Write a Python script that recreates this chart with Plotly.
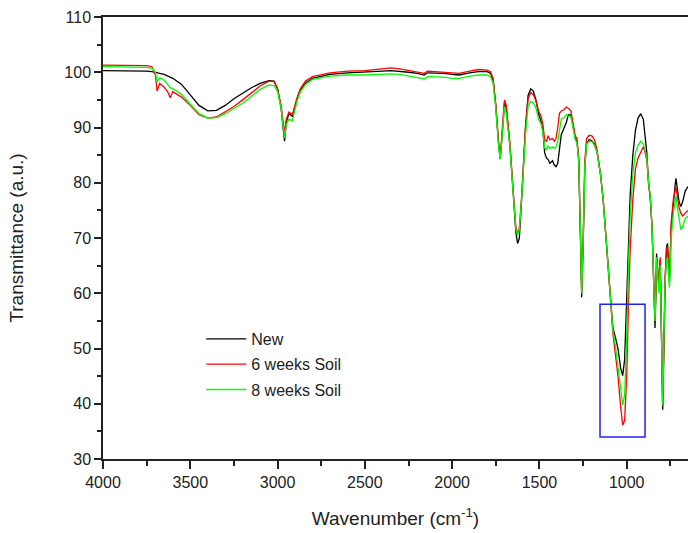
import plotly.graph_objects as go

wavenumber = [4000, 3900, 3800, 3750, 3720, 3700, 3690, 3675, 3650, 3630, 3615, 3600, 3550, 3500, 3450, 3400,
              3350, 3300, 3250, 3200, 3150, 3100, 3050, 3020, 3000, 2980, 2960, 2950, 2935, 2915, 2890, 2870,
              2840, 2800, 2700, 2600, 2500, 2400, 2350, 2300, 2250, 2200, 2160, 2140, 2050, 2000, 1960, 1900,
              1850, 1800, 1780, 1765, 1750, 1735, 1725, 1715, 1700, 1690, 1670, 1650, 1635, 1625, 1615, 1600,
              1580, 1565, 1550, 1535, 1520, 1505, 1490, 1480, 1470, 1460, 1450, 1440, 1425, 1415, 1405, 1395,
              1385, 1375, 1360, 1345, 1335, 1320, 1305, 1295, 1285, 1275, 1265, 1258, 1250, 1240, 1230, 1215,
              1200, 1185, 1170, 1150, 1135, 1120, 1105, 1090, 1080, 1065, 1050, 1035, 1023, 1012, 1000, 990,
              980, 965, 950, 935, 920, 905, 895, 885, 875, 865, 855, 845, 838, 833, 829, 820, 815, 808, 800,
              794, 788, 780, 772, 766, 760, 755, 745, 733, 723, 718, 712, 700, 690, 680, 665, 649]

new_sample = [100.3, 100.3, 100.2, 100.2, 100.1, 100.0, 99.9, 99.8, 99.6, 99.3, 99.1, 98.9, 97.8, 96.0, 94.0, 93.0,
              93.1, 94.0, 95.2, 96.2, 97.2, 98.0, 98.5, 98.4, 97.0, 93.5, 87.5, 91.0, 92.5, 92.0, 95.0, 96.8,
              98.0, 98.9, 99.6, 99.9, 100.0, 100.2, 100.3, 100.2, 100.0, 99.8, 99.5, 99.9, 99.8, 99.6, 99.5, 99.9,
              100.1, 100.1, 99.8, 98.5, 94.0, 87.5, 84.3, 88.0, 94.6, 93.5, 87.0, 78.0, 71.0, 69.0, 70.0, 78.0,
              90.0, 95.8, 97.0, 96.6, 95.0, 92.5, 91.0, 89.5, 85.4, 84.5, 84.2, 83.5, 84.0, 83.2, 82.9, 83.5,
              86.0, 88.7, 89.8, 91.0, 92.3, 92.3, 90.0, 88.0, 87.5, 84.0, 70.0, 59.3, 68.0, 83.0, 87.0, 87.8,
              87.6, 87.0, 85.5, 81.5, 77.0, 71.0, 64.8, 58.0, 53.9, 52.0, 50.0, 46.5, 45.1, 48.0, 59.0, 70.0,
              78.0, 85.0, 89.5, 91.7, 92.5, 91.5, 89.0, 85.5, 80.0, 77.0, 72.0, 60.0, 53.7, 60.0, 67.2, 63.0, 61.1, 66.0, 52.0,
              38.9, 48.0, 62.0, 68.4, 69.0, 64.0, 62.0, 72.0, 77.0, 79.5, 80.8, 79.0, 76.5, 75.7, 76.5, 78.5, 79.3]

soil_6_weeks = [101.3, 101.3, 101.3, 101.2, 101.0, 99.5, 96.6, 98.0, 97.3, 96.5, 95.4, 96.5, 95.5, 94.0, 92.3, 91.7,
                91.9, 92.8, 93.8, 95.0, 96.2, 97.5, 98.4, 98.3, 97.0, 94.0, 89.0, 91.5, 92.8, 92.3, 95.2, 97.0,
                98.4, 99.2, 99.9, 100.2, 100.3, 100.6, 100.8, 100.6, 100.3, 100.1, 99.8, 100.2, 100.0, 99.8, 99.8, 100.2,
                100.5, 100.4, 100.1, 98.8, 94.0, 87.5, 84.3, 89.0, 95.0, 94.0, 87.5, 78.5, 72.0, 70.8, 71.8, 78.5,
                90.0, 95.2, 96.3, 96.0, 94.8, 93.0, 92.0, 90.5, 87.8, 87.5, 88.5, 87.8, 88.0, 87.5, 88.0, 90.0,
                92.6, 93.0, 93.2, 93.7, 93.5, 93.0, 90.5, 88.5, 88.0, 84.5, 71.0, 60.5, 69.0, 84.0, 88.0, 88.6,
                88.5, 87.8, 86.0, 81.5, 77.0, 71.0, 64.5, 57.5, 53.0, 49.5, 45.0, 39.5, 36.1, 37.0, 45.0, 58.0,
                68.0, 77.0, 82.5, 84.5, 85.5, 86.5, 85.5, 84.0, 80.0, 77.5, 72.0, 61.0, 55.0, 60.5, 66.5, 63.5, 62.0, 66.5, 52.0,
                39.5, 50.0, 63.0, 68.0, 68.5, 65.0, 63.0, 73.0, 77.0, 78.5, 79.2, 78.0, 75.5, 74.5, 74.0, 74.5, 75.0]

soil_8_weeks = [101.0, 101.0, 100.9, 100.9, 100.7, 100.0, 98.3, 99.0, 98.6, 97.8, 97.2, 97.0, 96.0, 94.2, 92.5, 91.7,
                91.8, 92.5, 93.4, 94.4, 95.6, 96.9, 97.7, 97.6, 96.5, 93.5, 88.1, 90.5, 91.5, 91.2, 94.6, 96.4,
                97.8, 98.7, 99.3, 99.5, 99.5, 99.6, 99.7, 99.6, 99.3, 99.1, 98.8, 99.2, 99.1, 98.9, 98.9, 99.3,
                99.5, 99.5, 99.2, 97.9, 93.5, 87.0, 84.2, 88.0, 93.8, 92.5, 86.8, 78.0, 71.5, 70.5, 71.5, 78.0,
                88.5, 93.8, 94.7, 94.5, 93.5, 91.5, 90.6, 89.0, 86.3, 86.0, 86.7, 86.2, 86.5, 86.2, 86.5, 87.5,
                90.0, 91.5, 91.8, 92.3, 92.0, 92.0, 89.5, 87.8, 87.2, 84.0, 71.0, 60.0, 68.5, 83.0, 87.0, 87.5,
                87.5, 86.8, 85.5, 81.5, 77.0, 71.0, 64.8, 57.5, 53.5, 50.5, 46.5, 42.0, 39.8, 41.5, 52.0, 65.0,
                74.0, 81.5, 85.5, 86.8, 87.5, 87.0, 86.0, 84.5, 80.0, 77.5, 72.0, 61.0, 55.0, 61.0, 66.5, 62.0, 60.0, 65.0, 52.0,
                39.8, 50.0, 62.0, 66.0, 66.5, 63.0, 61.0, 70.0, 74.5, 76.5, 77.6, 76.0, 73.0, 71.5, 72.0, 73.5, 74.0]

series_names = ["New", "6 weeks Soil", "8 weeks Soil"]
series_values = [new_sample, soil_6_weeks, soil_8_weeks]
series_colors = ["#000000", "#FF0000", "#00FF00"]

highlight_x = [1153, 895]
highlight_y = [34, 58]

fig = go.Figure()
for name, vals, col in zip(series_names, series_values, series_colors):
    fig.add_trace(go.Scatter(x=wavenumber, y=vals, mode="lines", name=name, legendgroup=name,
                             line=dict(color=col, width=1.3)))

fig.add_shape(type="rect", xref="x", yref="y",
              x0=highlight_x[0], x1=highlight_x[1], y0=highlight_y[0], y1=highlight_y[1],
              line=dict(color="#2222EE", width=1.5), fillcolor="rgba(0,0,0,0)")

font_family = "Liberation Sans, Arial, sans-serif"

fig.update_layout(
    width=688, height=533,
    margin=dict(l=103, r=0, t=17, b=74),
    paper_bgcolor="white", plot_bgcolor="white",
    font=dict(family=font_family, color="#222222", size=16),
    showlegend=True,
    legend=dict(x=0.168, y=0.31, xanchor="left", yanchor="top",
                bgcolor="rgba(0,0,0,0)", borderwidth=0,
                font=dict(size=16, color="#222222"), itemwidth=40, tracegroupgap=1.5),
)

fig.update_xaxes(
    range=[4000, 649], tickmode="linear", tick0=0, dtick=500,
    showgrid=False, zeroline=False,
    showline=True, linecolor="#222222", linewidth=1.5, mirror=True,
    ticks="outside", ticklen=8, tickwidth=1.5, tickcolor="#222222",
    tickfont=dict(size=16, family=font_family, color="#222222"),
    minor=dict(dtick=250, ticks="outside", ticklen=5, tickwidth=1.5, tickcolor="#222222", showgrid=False),
    title=dict(text="Wavenumber (cm<sup>-1</sup>)", font=dict(size=19, family=font_family, color="#222222"), standoff=22),
)

fig.update_yaxes(
    range=[30, 110], tickmode="linear", tick0=0, dtick=10,
    showgrid=False, zeroline=False,
    showline=True, linecolor="#222222", linewidth=1.5, mirror=False,
    ticks="outside", ticklen=7, tickwidth=1.5, tickcolor="#222222",
    tickfont=dict(size=16, family=font_family, color="#222222"),
    minor=dict(dtick=5, ticks="outside", ticklen=4, tickwidth=1.5, tickcolor="#222222", showgrid=False),
    title=dict(text="Transmittance (a.u.)", font=dict(size=19, family=font_family, color="#222222"), standoff=36),
)

fig.write_html("out.html")
